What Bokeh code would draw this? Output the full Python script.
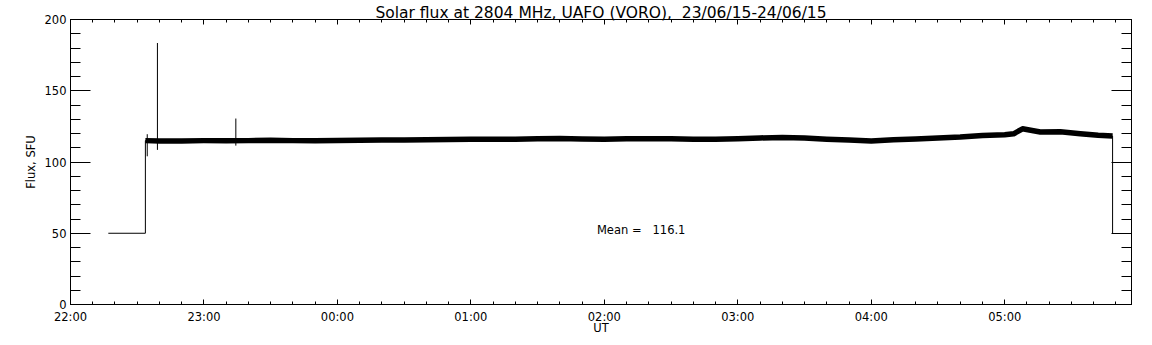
from bokeh.plotting import figure
from bokeh.models import LinearAxis, FixedTicker, Range1d, Label
from bokeh.embed import file_html
from bokeh.resources import INLINE

# ---------------- data ----------------
title_text = "Solar flux at 2804 MHz, UAFO (VORO),  23/06/15-24/06/15"
y_label = "Flux, SFU"
x_label = "UT"
mean_flux = 116.1

x_start = "22:00"
x_end = "05:57"
x_tick_labels = ["22:00", "23:00", "00:00", "01:00", "02:00", "03:00", "04:00", "05:00"]
y_ticks = [0, 50, 100, 150, 200]
y_minor_ticks = [0, 10, 20, 30, 40, 50, 60, 70, 80, 90, 100, 110, 120, 130, 140,
                 150, 160, 170, 180, 190, 200]

# receiver level before / after the observing window
pre_times = ["22:17:00", "22:33:40"]
pre_values = [50, 50]
post_times = ["05:48:30"]
post_values = [50]

# observed solar flux (sampled from the recorded trace)
flux_times = ["22:33:40", "22:40", "22:50", "23:00", "23:10", "23:20", "23:30", "23:40",
              "23:50", "00:00", "00:10", "00:20", "00:30", "00:40", "00:50", "01:00",
              "01:10", "01:20", "01:30", "01:40", "01:50", "02:00", "02:10", "02:20",
              "02:30", "02:40", "02:50", "03:00", "03:10", "03:20", "03:30", "03:40",
              "03:50", "04:00", "04:10", "04:20", "04:30", "04:40", "04:50", "05:00",
              "05:04", "05:08", "05:16", "05:25", "05:34", "05:42", "05:48:30"]
flux_values = [115.0, 114.8, 114.8, 115.0, 114.9, 115.0, 115.2, 115.0,
               115.0, 115.1, 115.3, 115.4, 115.5, 115.6, 115.8, 115.9,
               116.0, 115.9, 116.3, 116.5, 116.2, 116.0, 116.3, 116.4,
               116.3, 116.0, 116.0, 116.3, 116.9, 117.2, 116.8, 116.0,
               115.4, 114.8, 115.6, 116.2, 116.8, 117.5, 118.6, 119.2,
               119.8, 123.3, 121.1, 121.3, 119.9, 118.8, 118.2]

# short interference spikes
spike_times = ["22:34:30", "22:39:05", "23:14:20"]
spike_low = [104.0, 108.5, 111.5]
spike_high = [119.5, 183.5, 130.5]


def hours(t):
    parts = [int(v) for v in t.split(":")]
    while len(parts) < 3:
        parts.append(0)
    h, m, s = parts
    return ((h - 22) % 24) + m / 60 + s / 3600


def keep_spaces(s):
    return s.replace(" ", "\u00a0")


FONT = "DejaVu Sans"

xs_flux = [hours(t) for t in flux_times]
xs_trace = [hours(t) for t in pre_times] + xs_flux + [hours(t) for t in post_times]
ys_trace = pre_values + flux_values + post_values
xs_spike = [hours(t) for t in spike_times]

x0, x1 = hours(x_start), hours(x_end)
y0, y1 = y_ticks[0], y_ticks[-1]

p = figure(width=1152, height=345,
           x_range=Range1d(x0, x1), y_range=Range1d(y0, y1),
           toolbar_location=None, output_backend="svg",
           min_border_left=70, min_border_right=21,
           min_border_top=19, min_border_bottom=41,
           background_fill_color="white", border_fill_color="white")
p.xaxis.visible = False
p.yaxis.visible = False
p.xgrid.visible = False
p.ygrid.visible = False
p.outline_line_color = "black"
p.outline_line_width = 1

x_major = [hours(t) for t in x_tick_labels]
x_minor = [x0 + i / 6 for i in range(int((x1 - x0) * 6) + 1)]
x_ticker = FixedTicker(ticks=x_major, minor_ticks=x_minor)
y_ticker = FixedTicker(ticks=y_ticks, minor_ticks=y_minor_ticks)


def style_axis(ax, major_in, minor_in, labels=True):
    ax.axis_line_color = "black"
    ax.major_tick_line_color = "black"
    ax.minor_tick_line_color = "black"
    ax.major_tick_in = major_in
    ax.major_tick_out = 0
    ax.minor_tick_in = minor_in
    ax.minor_tick_out = 0
    ax.major_label_text_font = FONT
    ax.axis_label_text_font = FONT
    ax.axis_label_text_font_style = "normal"
    ax.axis_label_text_color = "black"
    ax.axis_label_text_font_size = "11.5px"
    if labels:
        ax.major_label_text_font_size = "11.5px"
        ax.major_label_text_color = "black"
    else:
        ax.major_label_text_font_size = "0px"
        ax.major_label_text_color = None
        ax.major_label_standoff = 0


bottom = LinearAxis(ticker=x_ticker, axis_label=x_label)
style_axis(bottom, 5, 3)
bottom.major_label_overrides = {hours(t): t for t in x_tick_labels}
bottom.major_label_standoff = 5
bottom.axis_label_standoff = -6
p.add_layout(bottom, "below")

# top axis: mirrored ticks, carries the plot title
top = LinearAxis(ticker=x_ticker, axis_label=keep_spaces(title_text))
style_axis(top, 5, 3, labels=False)
top.axis_label_text_font_size = "15.5px"
top.axis_label_standoff = -2
p.add_layout(top, "above")

left = LinearAxis(ticker=y_ticker, axis_label=y_label)
style_axis(left, 20, 10)
left.major_label_standoff = 4
left.axis_label_standoff = 4
p.add_layout(left, "left")

right = LinearAxis(ticker=y_ticker)
style_axis(right, 20, 10, labels=False)
p.add_layout(right, "right")

# thin full trace (incl. 50 SFU receiver level and jumps)
p.line(xs_trace, ys_trace, line_color="black", line_width=1)
# noisy flux record drawn as a thick band
p.line(xs_flux, flux_values, line_color="black", line_width=5.5, line_join="round")
# spikes
p.segment(x0=xs_spike, y0=spike_low, x1=xs_spike, y1=spike_high,
          line_color="black", line_width=1)

p.add_layout(Label(x=hours("01:56:40"), y=52.4,
                   text=keep_spaces(f"Mean = {mean_flux:7.1f}"),
                   text_font=FONT, text_font_size="11.5px", text_color="black",
                   text_align="left", text_baseline="middle"))

open("out.html", "w").write(file_html(p, INLINE))
